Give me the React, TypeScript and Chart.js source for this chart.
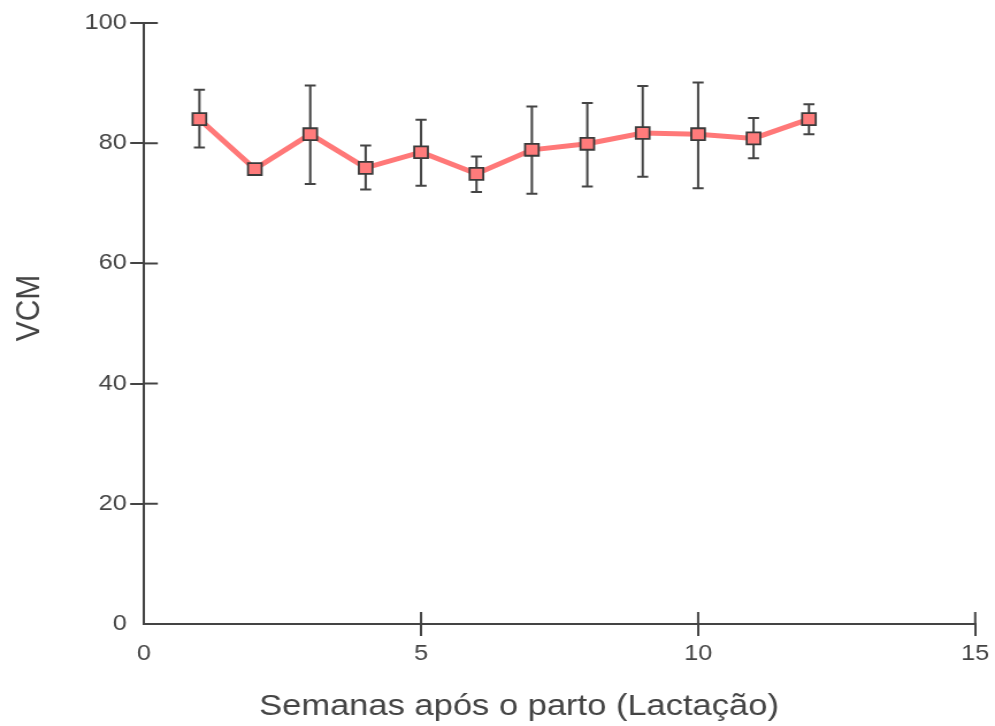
import React, { useEffect, useRef } from "react";
import { Chart, registerables } from "chart.js";

Chart.register(...registerables);

// ---- data ----
const weeks = [1, 2, 3, 4, 5, 6, 7, 8, 9, 10, 11, 12];
const vcmMean = [84.0, 75.7, 81.5, 75.9, 78.5, 74.9, 78.9, 79.9, 81.7, 81.5, 80.8, 84.0];
const vcmUpper = [88.9, 75.7, 89.6, 79.6, 83.9, 77.8, 86.1, 86.7, 89.5, 90.1, 84.2, 86.5];
const vcmLower = [79.3, 75.7, 73.2, 72.3, 72.9, 71.9, 71.6, 72.8, 74.4, 72.5, 77.5, 81.5];
const xTickValues = [0, 5, 10, 15];
const yTickValues = [0, 20, 40, 60, 80, 100];
const xTitle = "Semanas após o parto (Lactação)";
const yTitle = "VCM";

const W = 865;
const H = 726;
const S = 995 / W;
const FONT = "'Liberation Sans', Arial, Helvetica, sans-serif";
const INK = "#444444";

const errorBarPlugin = {
  id: "errorBars",
  beforeDatasetsDraw(chart: any) {
    const { ctx } = chart;
    const xs = chart.scales.x;
    const ys = chart.scales.y;
    ctx.save();
    ctx.strokeStyle = INK;
    ctx.lineWidth = 2;
    const cap = 4.8;
    weeks.forEach((w, i) => {
      const px = xs.getPixelForValue(w);
      const top = ys.getPixelForValue(vcmUpper[i]);
      const bot = ys.getPixelForValue(vcmLower[i]);
      if (Math.abs(bot - top) < 1) return;
      ctx.beginPath();
      ctx.moveTo(px, top);
      ctx.lineTo(px, bot);
      ctx.moveTo(px - cap, top);
      ctx.lineTo(px + cap, top);
      ctx.moveTo(px - cap, bot);
      ctx.lineTo(px + cap, bot);
      ctx.stroke();
    });
    ctx.restore();
  },
};

const axisDecorPlugin = {
  id: "axisDecor",
  afterDraw(chart: any) {
    const { ctx, chartArea } = chart;
    const xs = chart.scales.x;
    const ys = chart.scales.y;
    ctx.save();
    ctx.strokeStyle = INK;
    ctx.lineWidth = 2;
    // inner halves of crossing tick marks
    ctx.beginPath();
    yTickValues.forEach((v) => {
      if (v === 0) return;
      const py = ys.getPixelForValue(v);
      ctx.moveTo(chartArea.left, py);
      ctx.lineTo(chartArea.left + 12, py);
    });
    xTickValues.forEach((v) => {
      if (v === 0) return;
      const px = xs.getPixelForValue(v);
      ctx.moveTo(px, chartArea.bottom);
      ctx.lineTo(px, chartArea.bottom - 12);
    });
    ctx.stroke();
    // titles
    ctx.fillStyle = INK;
    ctx.font = `30px ${FONT}`;
    ctx.textAlign = "center";
    ctx.textBaseline = "alphabetic";
    ctx.fillText(xTitle, 519 / S, 715);
    ctx.translate(39.3 / S, 308);
    ctx.rotate(-Math.PI / 2);
    ctx.fillText(yTitle, 0, 0);
    ctx.restore();
  },
};

export default function App() {
  const ref = useRef<HTMLCanvasElement>(null);

  useEffect(() => {
    document.body.style.margin = "0";
    const canvas = ref.current!;
    const tickColor = (c: any) => (c.tick && c.tick.value === 0 ? "rgba(0,0,0,0)" : INK);
    const chart = new Chart(canvas, {
      type: "line",
      data: {
        datasets: [
          {
            data: weeks.map((w, i) => ({ x: w, y: vcmMean[i] })),
            borderColor: "#ff7878",
            borderWidth: 5,
            backgroundColor: "#ff7b7b",
            pointStyle: "rect",
            pointRadius: 8.4,
            pointBorderColor: "#3a3a3a",
            pointBorderWidth: 1.8,
            pointBackgroundColor: "#ff7b7b",
            tension: 0,
          },
        ],
      },
      options: {
        animation: false,
        responsive: false,
        devicePixelRatio: 1,
        layout: { padding: { left: 0, right: W - 980.5 / S, top: 23, bottom: 0 } },
        plugins: { legend: { display: false }, tooltip: { enabled: false } },
        scales: {
          x: {
            type: "linear",
            min: 0,
            max: 15,
            afterBuildTicks: (s: any) => {
              s.ticks = xTickValues.map((v) => ({ value: v }));
            },
            afterFit: (s: any) => {
              s.height = 102;
            },
            grid: { drawOnChartArea: false, tickLength: 12, color: tickColor, lineWidth: 2 },
            border: { display: true, color: INK, width: 2 },
            ticks: { color: INK, font: { family: FONT, size: 22 }, padding: 5, maxRotation: 0 },
          },
          y: {
            type: "linear",
            min: 0,
            max: 100,
            afterBuildTicks: (s: any) => {
              s.ticks = yTickValues.map((v) => ({ value: v }));
            },
            afterFit: (s: any) => {
              s.width = 144 / S;
            },
            grid: { drawOnChartArea: false, tickLength: 12, color: tickColor, lineWidth: 2 },
            border: { display: true, color: INK, width: 2 },
            ticks: { color: INK, font: { family: FONT, size: 22 }, padding: 3 },
          },
        },
      },
      plugins: [errorBarPlugin, axisDecorPlugin],
    } as any);
    return () => chart.destroy();
  }, []);

  return (
    <div style={{ position: "fixed", left: 0, top: 0, width: 995, height: 726, overflow: "hidden", background: "#fff" }}>
      <canvas
        ref={ref}
        width={W}
        height={H}
        style={{ width: W, height: H, transform: `scaleX(${S})`, transformOrigin: "0 0", display: "block" }}
      />
    </div>
  );
}
